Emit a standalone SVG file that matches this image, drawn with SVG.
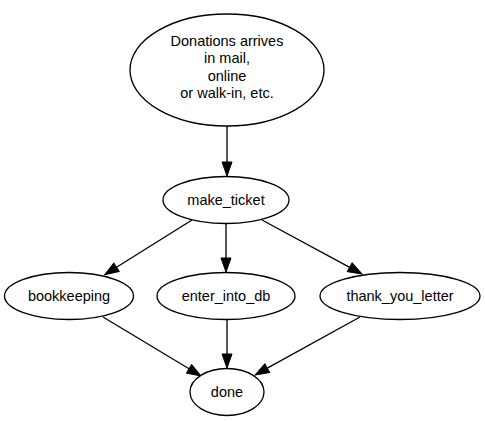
<svg xmlns="http://www.w3.org/2000/svg" width="485" height="421" viewBox="0 0 485 421">
<style>
.n ellipse{fill:#fff;stroke:#000;stroke-width:1.33}
.n text{font-family:"Liberation Sans",Arial,sans-serif;font-size:14.5px;text-anchor:middle;fill:#000}
#edges path{fill:none;stroke:#000;stroke-width:1.33;marker-end:url(#ah)}
</style>
<defs>
<marker id="ah" markerUnits="userSpaceOnUse" markerWidth="16" markerHeight="12" refX="0" refY="5" orient="auto" overflow="visible">
<path d="M0,0 L14,5 L0,10 z" fill="#000" stroke="#000" stroke-width="1"/>
</marker>
</defs>
<rect width="485" height="421" fill="#fff"/>
<g id="edges">
<path d="M227,126 L227,162"/>
<path d="M192,220 L116.5,267.3"/>
<path d="M226,224 L226,258"/>
<path d="M262,220 L349.7,267.3"/>
<path d="M103,317 L189,368.8"/>
<path d="M227,320 L227,354"/>
<path d="M360,317 L267.3,368.2"/>
</g>
<g id="donations" class="n">
<ellipse cx="227" cy="70" rx="97" ry="56"/>
<text x="227" y="46">Donations arrives</text>
<text x="227" y="63.3">in mail,</text>
<text x="227" y="80.6">online</text>
<text x="227" y="97.9">or walk-in, etc.</text>
</g>
<g id="make_ticket" class="n">
<ellipse cx="226" cy="200" rx="63" ry="23.5"/>
<text x="226" y="204.5">make_ticket</text>
</g>
<g id="bookkeeping" class="n">
<ellipse cx="69" cy="296" rx="64.5" ry="23.5"/>
<text x="69" y="300.5">bookkeeping</text>
</g>
<g id="enter_into_db" class="n">
<ellipse cx="226" cy="296" rx="69" ry="23.5"/>
<text x="226" y="300.5">enter_into_db</text>
</g>
<g id="thank_you_letter" class="n">
<ellipse cx="400" cy="296" rx="80" ry="23.5"/>
<text x="400" y="300.5">thank_you_letter</text>
</g>
<g id="done" class="n">
<ellipse cx="227" cy="392" rx="37" ry="23.5"/>
<text x="227" y="396.5">done</text>
</g>
</svg>
